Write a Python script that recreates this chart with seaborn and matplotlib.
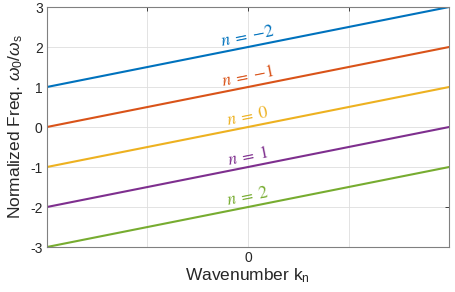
import numpy as np
import pandas as pd
import seaborn as sns
import matplotlib.pyplot as plt

# data
k = [-2, 2]
orders = [-2, -1, 0, 1, 2]
freq_m2 = [1, 3]
freq_m1 = [0, 2]
freq_0 = [-1, 1]
freq_p1 = [-2, 0]
freq_p2 = [-3, -1]
label_k = 0
label_freq = [2, 1, 0, -1, -2]
label_text = [r'$n\;=\;{-}2$', r'$n\;=\;{-}1$', r'$n\;=\;0$', r'$n\;=\;1$', r'$n\;=\;2$']
xticks = [-1, 0, 1]
xticklabels = ['', '0', '']
yticks = [-3, -2, -1, 0, 1, 2, 3]

colors = ['#0072BD', '#D95319', '#EDB120', '#7E2F8E', '#77AC30']

sns.set_style('white')
plt.rcParams['font.family'] = ['Liberation Sans', 'DejaVu Sans']
plt.rcParams['mathtext.fontset'] = 'custom'
plt.rcParams['mathtext.rm'] = 'Liberation Sans'
plt.rcParams['mathtext.it'] = 'Liberation Sans:italic'

rows = []
for n, vals in zip(orders, [freq_m2, freq_m1, freq_0, freq_p1, freq_p2]):
    for kk, v in zip(k, vals):
        rows.append({'k': kk, 'freq': v, 'n': n})
df = pd.DataFrame(rows)

fig = plt.figure(figsize=(4.55, 2.92), dpi=100)
ax = fig.add_axes([0.103, 0.154, 0.884, 0.822])

sns.lineplot(data=df, x='k', y='freq', hue='n', hue_order=orders, palette=colors,
             linewidth=1.5, legend=False, ax=ax)

# labels along each line
for txt, y0, c in zip(label_text, label_freq, colors):
    ax.text(label_k, y0 + 0.28, txt, color=c, fontsize=12.5, ha='center', va='center',
            math_fontfamily='stix', rotation=np.degrees(np.arctan(0.5)),
            transform_rotates_text=True, rotation_mode='anchor')

ax.set_xlim(-2, 2)
ax.set_ylim(-3, 3)
ax.set_xticks(xticks)
ax.set_xticklabels(xticklabels)
ax.set_yticks(yticks)
ax.set_yticklabels([str(t) for t in yticks])
ax.grid(True, color='#dedede', linewidth=0.6)
ax.tick_params(direction='in', length=3, width=0.6, colors='#262626', labelsize=10,
               top=True, right=True, pad=3)
for s in ax.spines.values():
    s.set_color('#808080')
    s.set_linewidth(0.8)
ax.set_xlabel(r'Wavenumber k$_\mathrm{n}$', fontsize=12.5, color='#262626', labelpad=1)
ax.set_ylabel(r'Normalized Freq. $\omega_0/\omega_\mathrm{s}$', fontsize=12.5, color='#262626',
              labelpad=4)

fig.savefig('out.png', dpi=100)
